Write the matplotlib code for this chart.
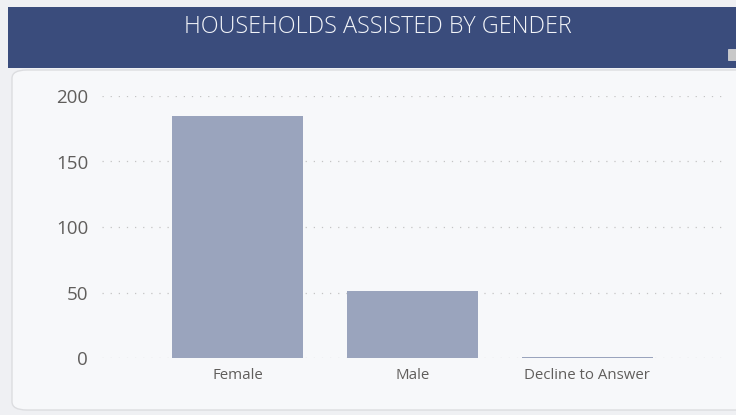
import matplotlib.pyplot as plt
from matplotlib.patches import FancyBboxPatch, Rectangle

# данные диаграммы
categories = ["Female", "Male", "Decline to Answer"]
households = [185, 51, 1]
y_ticks = [0, 50, 100, 150, 200]

W, H = 736, 415
fig = plt.figure(figsize=(W / 100, H / 100), dpi=100, facecolor="#eff0f3")

# карточка визуала
card = FancyBboxPatch((12 / W, 5 / H), 740 / W, 340 / H,
                      boxstyle="round,pad=0,rounding_size=0.02",
                      transform=fig.transFigure, facecolor="#f7f8fa",
                      edgecolor="#dcdde0", linewidth=1.0, zorder=0)
fig.patches.append(card)

# заголовок
fig.patches.append(Rectangle((8 / W, (H - 68) / H), 740 / W, 61 / H,
                             transform=fig.transFigure, facecolor="#3a4c7c",
                             edgecolor="none", zorder=1))
fig.patches.append(Rectangle((728 / W, (H - 60) / H), 10 / W, 11 / H,
                             transform=fig.transFigure, facecolor="#c8c8c8",
                             edgecolor="#e0e0e0", linewidth=0.5, zorder=2))
fig.text(378 / W, (H - 27) / H, "HOUSEHOLDS ASSISTED BY GENDER",
         ha="center", va="center", color="#f2f4f8", fontsize=16.8,
         family="Open Sans", fontweight="light", zorder=3)

ax = fig.add_axes([102 / W, (H - 358) / H, 623 / W, 262 / H])
ax.set_zorder(5)
ax.set_facecolor("none")
x = range(len(categories))
ax.bar(x, households, width=0.75, color="#9aa4bd", zorder=2)
ax.set_xlim(-0.777, 2.79)
ax.set_ylim(0, 200)
ax.set_yticks(y_ticks)
ax.set_xticks(list(x))
ax.set_xticklabels(categories)
ax.grid(axis="y", linestyle=(0, (1, 5.5)), color="#c4c4c4", linewidth=0.9, zorder=1)
ax.set_axisbelow(True)
for s in ax.spines.values():
    s.set_visible(False)
ax.tick_params(axis="both", length=0)
ax.tick_params(axis="y", pad=10, labelsize=13.5, labelcolor="#605e5c")
ax.tick_params(axis="x", pad=7, labelsize=10.8, labelcolor="#605e5c")
for lab in ax.get_yticklabels() + ax.get_xticklabels():
    lab.set_family("Open Sans")

fig.savefig("out.png", dpi=100, facecolor=fig.get_facecolor())
